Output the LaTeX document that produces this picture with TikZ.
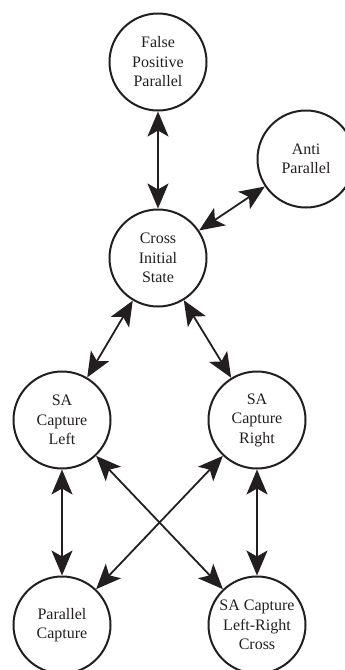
\documentclass[tikz,border=0pt]{standalone}
\usepackage{fontspec}
\setmainfont{Liberation Serif}
\usetikzlibrary{arrows.meta}
\definecolor{ink}{HTML}{231F20}
\begin{document}
\begin{tikzpicture}[x=1pt,y=-1pt,
  state/.style={draw=ink,circle,line width=2pt,minimum size=97pt,inner sep=0pt,
    align=center,text=ink,font=\fontsize{16}{19.5}\selectfont},
  link/.style={draw=ink,line width=1.8pt,
    {Stealth[length=25pt,width=21pt,inset=6pt]}-{Stealth[length=25pt,width=21pt,inset=6pt]}}]
\useasboundingbox (0,0) rectangle (345,670);
\pgfmathsetmacro{\xl}{62}
\pgfmathsetmacro{\xr}{257}
\pgfmathsetmacro{\xm}{158}
\node[state] (fpp) at (\xm,62) {False\\Positive\\Parallel};
\node[state] (anti) at (306,159) {Anti\\Parallel};
\node[state] (cross) at (\xm,258) {Cross\\Initial\\State};
\node[state] (sal) at (\xl,420) {SA\\Capture\\Left};
\node[state] (sar) at (\xr,420) {SA\\Capture\\Right};
\node[state] (pc) at (\xl,625) {Parallel\\Capture};
\node[state] (salr) at (\xr,625) {SA Capture\\Left-Right\\Cross};
%links
\draw[link] (fpp)--(cross);
\draw[link] (anti)--(cross);
\draw[link] (cross)--(sal);
\draw[link] (cross)--(sar);
\draw[link] (sal)--(pc);
\draw[link] (sar)--(salr);
\draw[link] (sal)--(salr);
\draw[link] (sar)--(pc);
\end{tikzpicture}
\end{document}
